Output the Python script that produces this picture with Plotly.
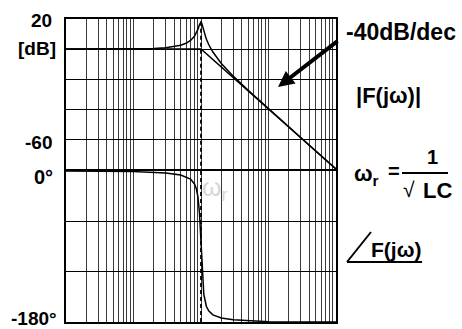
import plotly.graph_objects as go

# ---- data ----
w_mag = [0.01, 0.1, 0.2, 0.3, 0.4, 0.5, 0.6, 0.7, 0.8, 0.85, 0.9, 0.95, 0.98, 1.0,
         1.02, 1.05, 1.1, 1.2, 1.3, 1.5, 2, 3, 5, 10, 20, 50, 100]
mag_db = [0, 0.1, 0.35, 0.8, 1.5, 2.5, 3.8, 5.7, 8.5, 10.5, 13.1, 16.3, 17.8, 18.1,
          17.5, 15.6, 12.0, 6.6, 3.0, -2.0, -9.6, -18.1, -27.6, -39.9, -52.0, -68.0, -80.0]
w_asym = [0.01, 1, 100]
asym_db = [0, 0, -80]
w_ph = [0.01, 0.1, 0.3, 0.5, 0.7, 0.8, 0.85, 0.9, 0.95, 0.98, 0.99, 1.0, 1.01, 1.02,
        1.05, 1.1, 1.2, 1.3, 1.5, 2, 3, 5, 10, 100]
phase_deg = [0, -0.7, -2.4, -4.8, -9.7, -15.5, -20.9, -30.6, -50.6, -72.1, -80.9, -90,
             -99.1, -107.6, -128, -146.8, -161.2, -166.7, -171.5, -175.2, -177.3,
             -178.5, -179.6, -180]
w_r = 1
mag_ticks = ["20", "[dB]", "-60"]
phase_ticks = ["0°", "-180°"]

# ---- layout helpers (pixel -> paper) ----
L, R, T, B = 66, 336, 19, 322
def px(x):
    return (x - L) / (R - L)
def py(y):
    return (B - y) / (B - T)

FONT = "Liberation Sans, Arial, sans-serif"
fig = go.Figure()

line = dict(color="black", width=1.5)
dash = dict(color="black", width=1.8, dash="4px,3px")
fig.add_trace(go.Scatter(x=w_mag, y=mag_db, mode="lines", line=line, xaxis="x", yaxis="y"))
fig.add_trace(go.Scatter(x=w_asym, y=asym_db, mode="lines", line=line, xaxis="x", yaxis="y"))
fig.add_trace(go.Scatter(x=[w_r, w_r], y=[max(mag_db), -80], mode="lines",
                         line=dash, xaxis="x", yaxis="y"))
fig.add_trace(go.Scatter(x=w_ph, y=phase_deg, mode="lines", line=line, xaxis="x2", yaxis="y2"))
fig.add_trace(go.Scatter(x=[w_r, w_r], y=[0, -180], mode="lines",
                         line=dash, xaxis="x2", yaxis="y2"))

xcommon = dict(type="log", range=[-2, 2], dtick="D1", showticklabels=False,
               showgrid=True, gridcolor="#3a3a3a", gridwidth=1,
               showline=True, mirror=True, linecolor="black", linewidth=1.5,
               zeroline=False, ticks="")
fig.update_layout(
    width=462, height=329,
    margin=dict(l=L, r=462 - R, t=T, b=329 - B),
    paper_bgcolor="white", plot_bgcolor="white",
    showlegend=False,
    xaxis=dict(**xcommon, anchor="y"),
    xaxis2=dict(**xcommon, anchor="y2", matches="x"),
    yaxis=dict(domain=[py(169), 1], range=[-80, 20], dtick=20, showticklabels=False,
               gridcolor="black", gridwidth=1, showline=True, mirror=True,
               linecolor="black", linewidth=1.5, zeroline=False, ticks=""),
    yaxis2=dict(domain=[0, py(171)], range=[-180, 0], dtick=60, showticklabels=False,
                gridcolor="black", gridwidth=1, showline=True, mirror=True,
                linecolor="black", linewidth=1.5, zeroline=False, ticks=""),
)

def ann(text, x, y, size, xanchor="center", color="black", bold=True):
    fig.add_annotation(text=("<b>%s</b>" % text) if bold else text,
                       x=px(x), y=py(y), xref="paper", yref="paper",
                       xanchor=xanchor, yanchor="middle", showarrow=False,
                       font=dict(family=FONT, size=size, color=color))

# axis labels
ann(mag_ticks[0], 54, 20, 19, "right")
ann(mag_ticks[1], 58, 49, 19, "right")
ann(mag_ticks[2], 54, 142, 19, "right")
ann(phase_ticks[0], 55, 177, 20, "right")
ann(phase_ticks[1], 59, 318, 19, "right")

# right-side texts
ann("-40dB/dec", 401, 32, 23)
ann("|F(jω)|", 388, 96, 22)
ann("ω<sub>r</sub>", 366, 175, 22)
ann("=", 394, 171, 20)
ann("1", 432, 157, 20)
ann("√", 409, 189, 21, bold=False)
ann("LC", 437, 190, 22)
ann("F(jω)", 396, 249, 21)
ann("ω<sub>r</sub>", 215, 189, 25, color="#d6d6d6", bold=False)

# arrow
fig.add_annotation(x=px(278), y=py(87), xref="paper", yref="paper", text="",
                   showarrow=True, ax=61, ay=-47, axref="pixel", ayref="pixel",
                   arrowhead=2, arrowsize=0.8, arrowwidth=4, arrowcolor="black")

# fraction bar and angle symbol
fig.add_shape(type="line", xref="paper", yref="paper", x0=px(402), x1=px(448),
              y0=py(173), y1=py(173), line=dict(color="black", width=2))
fig.add_shape(type="line", xref="paper", yref="paper", x0=px(347), x1=px(371),
              y0=py(262), y1=py(232), line=dict(color="black", width=2))
fig.add_shape(type="line", xref="paper", yref="paper", x0=px(347), x1=px(422),
              y0=py(262), y1=py(262), line=dict(color="black", width=2))

fig.write_html("out.html", config={"displayModeBar": False},
               post_script="document.body.style.margin='0';document.body.style.padding='0';"
                           "document.body.style.overflow='hidden';")
